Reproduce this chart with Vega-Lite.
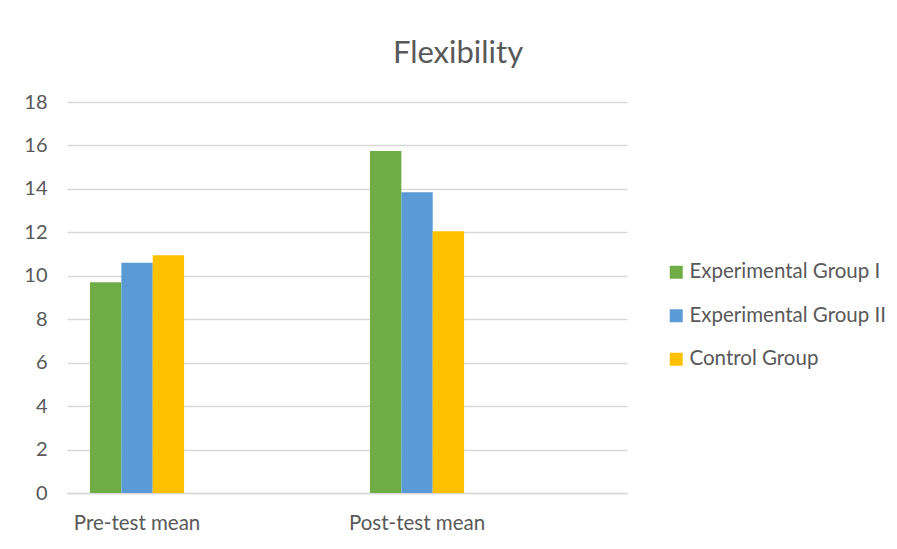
{
  "$schema": "https://vega.github.io/schema/vega-lite/v6.json",
  "width": 560,
  "height": 391,
  "autosize": "none",
  "padding": {"left": 67, "top": 102, "right": 270, "bottom": 56},
  "background": "white",
  "title": {
    "text": "Flexibility",
    "fontSize": 31,
    "font": "Lato",
    "fontWeight": "normal",
    "color": "#595959",
    "anchor": "middle",
    "dx": 111,
    "offset": 22
  },
  "data": {
    "values": [
      {"test": "Pre-test mean", "group": "Experimental Group I", "value": 9.7},
      {"test": "Pre-test mean", "group": "Experimental Group II", "value": 10.6},
      {"test": "Pre-test mean", "group": "Control Group", "value": 10.95},
      {"test": "Post-test mean", "group": "Experimental Group I", "value": 15.75},
      {"test": "Post-test mean", "group": "Experimental Group II", "value": 13.85},
      {"test": "Post-test mean", "group": "Control Group", "value": 12.05}
    ]
  },
  "mark": {"type": "bar"},
  "encoding": {
    "x": {
      "field": "test",
      "type": "nominal",
      "sort": ["Pre-test mean", "Post-test mean"],
      "scale": {"paddingInner": 0.664, "paddingOuter": 0.332, "align": 0.1237},
      "axis": {
        "title": null,
        "labelAngle": 0,
        "labelFontSize": 20.5,
        "labelFont": "Lato",
        "labelColor": "#595959",
        "labelPadding": 20,
        "ticks": false,
        "domainColor": "#d9d9d9",
        "domainWidth": 1.5,
        "grid": false
      }
    },
    "xOffset": {
      "field": "group",
      "type": "nominal",
      "sort": ["Experimental Group I", "Experimental Group II", "Control Group"],
      "scale": {"paddingInner": 0, "paddingOuter": 0}
    },
    "y": {
      "field": "value",
      "type": "quantitative",
      "scale": {"domain": [0, 18]},
      "axis": {
        "title": null,
        "values": [0, 2, 4, 6, 8, 10, 12, 14, 16, 18],
        "labelFontSize": 20,
        "labelFont": "Lato",
        "labelColor": "#595959",
        "labelPadding": 20,
        "ticks": false,
        "domain": false,
        "gridColor": "#d9d9d9",
        "gridWidth": 1.5
      }
    },
    "color": {
      "field": "group",
      "type": "nominal",
      "sort": ["Experimental Group I", "Experimental Group II", "Control Group"],
      "scale": {
        "domain": ["Experimental Group I", "Experimental Group II", "Control Group"],
        "range": ["#70ad47", "#5b9bd5", "#ffc000"]
      },
      "legend": {
        "title": null,
        "orient": "none",
        "legendX": 599,
        "legendY": 160,
        "symbolType": "square",
        "symbolSize": 169,
        "symbolStrokeWidth": 0,
        "labelFontSize": 20.5,
        "labelFont": "Lato",
        "labelColor": "#595959",
        "labelOffset": 3,
        "rowPadding": 22.5,
        "labelLimit": 300
      }
    }
  },
  "config": {"view": {"stroke": null}}
}
